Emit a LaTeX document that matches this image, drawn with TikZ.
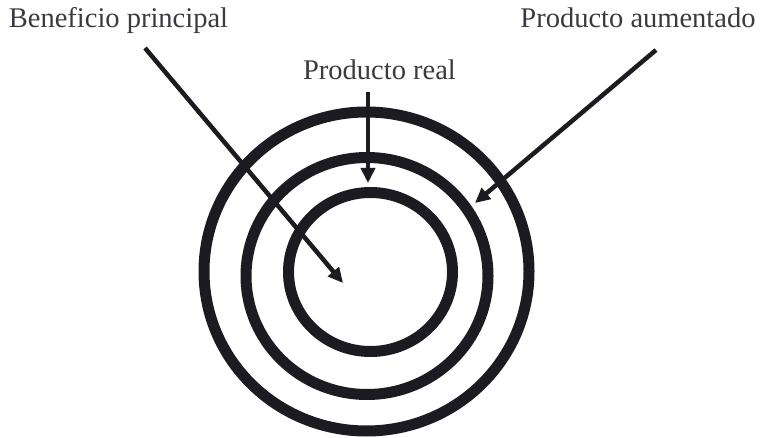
\documentclass[tikz,border=0pt]{standalone}
\usepackage{fontspec}
\setmainfont{Liberation Serif}
\usetikzlibrary{arrows.meta}
\definecolor{ink}{HTML}{1C1B22}
\definecolor{txt}{HTML}{3A3A42}
\tikzset{
  ring/.style={draw=ink, line width=11pt},
  pointer/.style={draw=ink, line width=4.5pt, -{Triangle[length=15pt,width=14pt]}},
  lbl/.style={anchor=base, inner sep=0pt, text=txt, font=\fontsize{28.5}{30}\selectfont}
}
\begin{document}
\begin{tikzpicture}[x=1pt, y=-1pt]
\useasboundingbox (0,0) rectangle (763,438);
% rings
\draw[ring] (366.5,271.5) ellipse [x radius=162.5, y radius=159.5];
\draw[ring] (367,276) ellipse [x radius=121, y radius=118.5];
\draw[ring] (370.5,272) ellipse [x radius=82, y radius=79.5];
% labels
\node[lbl] (ben) at (118.5,28) {Beneficio principal};
\node[lbl] (aum) at (638,28) {Producto aumentado};
\node[lbl] (real) at (379.5,80) {Producto real};
% arrow ends
\coordinate (benS) at (145,48);
\coordinate (benT) at (343,283);
\coordinate (aumS) at (656,50);
\coordinate (aumT) at (475,203);
\coordinate (realS) at (368,92);
\coordinate (realT) at (368,183);
% arrows
\draw[pointer] (benS) -- (benT);
\draw[pointer] (aumS) -- (aumT);
\draw[pointer] (realS) -- (realT);
\end{tikzpicture}
\end{document}
